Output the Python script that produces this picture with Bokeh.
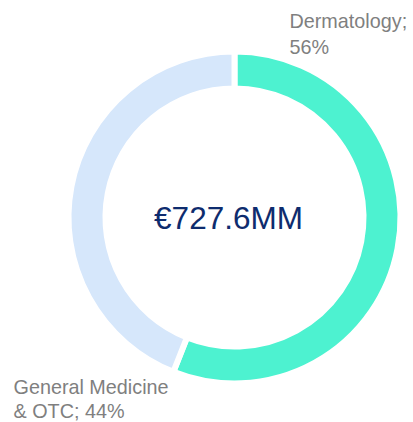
import math
from bokeh.plotting import figure
from bokeh.models import Range1d, ColumnDataSource
from bokeh.core.properties import value
from bokeh.embed import file_html
from bokeh.resources import INLINE

categories = ["Dermatology", "General Medicine & OTC"]
shares = [56, 44]
colors = ["#4DF2D0", "#D6E7FB"]
label_lines = [["Dermatology;", "56%"], ["General Medicine", "& OTC; 44%"]]
center_label = "€727.6MM"

W, H = 413, 422
p = figure(width=W, height=H, output_backend="svg", toolbar_location=None,
           x_range=Range1d(0, W), y_range=Range1d(0, H), min_border=0)
p.axis.visible = False
p.grid.visible = False
p.outline_line_color = None
p.background_fill_color = "white"

cx, cy = 234, H - 217
total = sum(shares)
starts, ends = [], []
acc = 0.0
for s in shares:
    a0 = math.pi / 2 - 2 * math.pi * acc / total
    acc += s
    a1 = math.pi / 2 - 2 * math.pi * acc / total
    starts.append(a0)
    ends.append(a1)

src = ColumnDataSource(dict(cat=categories, start=starts, end=ends, color=colors))
p.annular_wedge(x=cx, y=cy, inner_radius=129, outer_radius=166,
                start_angle="start", end_angle="end", direction="clock",
                fill_color="color", line_color="white", line_width=6, source=src)

p.text(x=[228], y=[cy], text=[center_label], text_align="center",
       text_baseline="middle", text_font=value("Liberation Sans"),
       text_font_size="31.5px", text_color="#0E2C6E")

label_pos = [(289, [20, 46]), (13, [386, 410])]
for (lx, ys), lines in zip(label_pos, label_lines):
    p.text(x=[lx] * len(lines), y=[H - yy for yy in ys], text=lines,
           text_align="left", text_baseline="alphabetic",
           text_font=value("Liberation Sans"), text_font_size="19.8px",
           text_color="#7F7F7F")

open("out.html", "w").write(file_html(p, INLINE))
